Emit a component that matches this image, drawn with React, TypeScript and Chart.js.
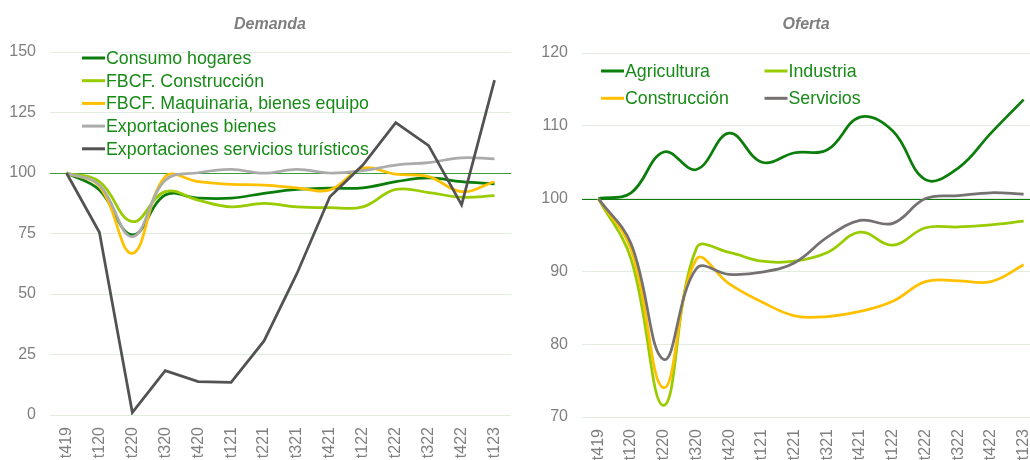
import React, { useEffect, useRef } from "react";
import { Chart, registerables } from "chart.js";
Chart.register(...registerables);

const FONT = "'Liberation Sans', Arial, Helvetica, sans-serif";

const categories = ["t419", "t120", "t220", "t320", "t420", "t121", "t221", "t321", "t421", "t122", "t222", "t322", "t422", "t123"];

// Demanda
const demandaTicks = [0, 25, 50, 75, 100, 125, 150];
const consumoHogares = [100, 93, 74.4, 90.9, 89.6, 89.6, 91.6, 93.2, 93.7, 93.9, 96.4, 98, 96.4, 95.5];
const fbcfConstruccion = [100, 96.4, 79.9, 92.3, 88.8, 86, 87.5, 86, 85.7, 86, 93.2, 91.9, 90, 90.6];
const fbcfMaquinaria = [100, 94.5, 66.8, 98.5, 96.4, 95.3, 95, 93.9, 93, 101.9, 99.5, 98.5, 92.3, 96.4];
const exportBienes = [100, 95, 73.7, 97, 100.1, 101.5, 99.9, 101.5, 100, 101, 103.3, 104.3, 106.3, 105.8];
const exportTuristicos = [100, 75.5, 1, 18.3, 13.8, 13.5, 30.6, 58.5, 90.2, 103.3, 120.8, 111.3, 86.8, 138.4];

// Oferta
const ofertaTicks = [70, 80, 90, 100, 110, 120];
const agricultura = [100, 100.8, 106.4, 104.0, 109.0, 105.0, 106.3, 106.7, 111.2, 109.3, 102.6, 104.2, 109.0, 113.6];
const industria = [100, 91.7, 71.6, 93.2, 92.6, 91.4, 91.4, 92.6, 95.4, 93.6, 96.0, 96.1, 96.4, 96.9];
const construccion = [100, 93.0, 74.0, 91.7, 88.3, 85.8, 83.9, 83.8, 84.5, 85.9, 88.6, 88.7, 88.6, 90.9];
const servicios = [100, 93.8, 77.9, 90.4, 89.6, 89.9, 91.2, 94.7, 97.0, 96.6, 100.0, 100.4, 100.8, 100.6];

const decor = {
  id: "decor",
  beforeDatasetsDraw(chart: any, _args: any, opts: any) {
    const { ctx, chartArea, scales } = chart;
    const y = Math.round(scales.y.getPixelForValue(opts.refValue)) + 0.5;
    ctx.save();
    ctx.strokeStyle = opts.refColor;
    ctx.lineWidth = 1;
    ctx.beginPath();
    ctx.moveTo(chartArea.left, y);
    ctx.lineTo(chartArea.right, y);
    ctx.stroke();
    ctx.restore();
  },
  afterDatasetsDraw(chart: any, _args: any, opts: any) {
    const { ctx } = chart;
    ctx.save();
    ctx.font = `italic bold 16px ${FONT}`;
    ctx.fillStyle = "#7f7f7f";
    ctx.textAlign = "center";
    ctx.textBaseline = "middle";
    ctx.fillText(opts.title, opts.titleX, opts.titleY);
    ctx.font = `17.8px ${FONT}`;
    ctx.textAlign = "left";
    chart.data.datasets.forEach((ds: any, i: number) => {
      const p = opts.legendPos[i];
      ctx.strokeStyle = ds.borderColor;
      ctx.lineWidth = 3;
      ctx.beginPath();
      ctx.moveTo(p[0], p[1]);
      ctx.lineTo(p[0] + 23, p[1]);
      ctx.stroke();
      ctx.fillStyle = "#178a17";
      ctx.fillText(ds.label, p[0] + 24, p[1] + 1);
    });
    ctx.restore();
  },
};

function makeConfig(o: any) {
  return {
    type: "line",
    data: {
      labels: categories,
      datasets: o.series.map((s: any, i: number) => ({
        label: s.label,
        data: s.data,
        borderColor: s.color,
        backgroundColor: s.color,
        borderWidth: 2.75,
        pointRadius: 0,
        tension: s.tension ?? 0.4,
        fill: false,
        order: o.series.length - i,
      })),
    },
    plugins: [decor],
    options: {
      responsive: false,
      animation: false,
      layout: { padding: { left: 0, right: o.padRight, top: o.top, bottom: 0 } },
      plugins: {
        legend: { display: false },
        tooltip: { enabled: false },
        decor: {
          refValue: 100,
          refColor: o.refColor,
          title: o.title,
          titleX: o.titleX,
          titleY: o.titleY,
          legendPos: o.legendPos,
        },
      },
      scales: {
        x: {
          type: "category",
          offset: true,
          grid: { display: false, drawTicks: false },
          border: { display: false },
          afterFit: (s: any) => {
            s.height = o.xHeight;
            s.paddingLeft = 0;
            s.paddingRight = 0;
          },
          ticks: {
            autoSkip: false,
            minRotation: 90,
            maxRotation: 90,
            padding: 12,
            color: "#7f7f7f",
            font: { family: FONT, size: 16 },
          },
        },
        y: {
          min: o.ticks[0],
          max: o.ticks[o.ticks.length - 1],
          afterBuildTicks: (s: any) => {
            s.ticks = o.ticks.map((v: number) => ({ value: v }));
          },
          afterFit: (s: any) => {
            s.width = o.yWidth;
            s.paddingTop = 0;
            s.paddingBottom = 0;
          },
          grid: { color: "#e2ede2", lineWidth: 1, drawTicks: false },
          border: { display: false },
          ticks: {
            padding: 14,
            color: "#7f7f7f",
            font: { family: FONT, size: 16 },
          },
        },
      },
    },
  };
}

function ChartCanvas({ config, left, width }: any) {
  const ref = useRef<HTMLCanvasElement | null>(null);
  useEffect(() => {
    if (!ref.current) return;
    const chart = new Chart(ref.current, config);
    return () => chart.destroy();
  }, []);
  return (
    <canvas
      ref={ref}
      width={width}
      height={460}
      style={{ position: "absolute", left, top: 0, width, height: 460 }}
    />
  );
}

const demandaConfig = makeConfig({
  series: [
    { label: "Consumo hogares", data: consumoHogares, color: "#0b7d0b" },
    { label: "FBCF. Construcción", data: fbcfConstruccion, color: "#99cc00" },
    { label: "FBCF. Maquinaria, bienes equipo", data: fbcfMaquinaria, color: "#ffc000" },
    { label: "Exportaciones bienes", data: exportBienes, color: "#ababab" },
    { label: "Exportaciones servicios turísticos", data: exportTuristicos, color: "#525252", tension: 0 },
  ],
  ticks: demandaTicks,
  refColor: "#3a9e3a",
  title: "Demanda",
  titleX: 270,
  titleY: 25,
  top: 52,
  padRight: 4,
  yWidth: 50,
  xHeight: 45,
  legendPos: [
    [82, 58],
    [82, 80.7],
    [82, 103.4],
    [82, 126.1],
    [82, 148.8],
  ],
});

const ofertaConfig = makeConfig({
  series: [
    { label: "Agricultura", data: agricultura, color: "#0b7d0b" },
    { label: "Industria", data: industria, color: "#99cc00" },
    { label: "Construcción", data: construccion, color: "#ffc000" },
    { label: "Servicios", data: servicios, color: "#767171" },
  ],
  ticks: ofertaTicks,
  refColor: "#107c10",
  title: "Oferta",
  titleX: 291,
  titleY: 25,
  top: 53,
  padRight: 5,
  yWidth: 67,
  xHeight: 43,
  legendPos: [
    [86, 71],
    [249.5, 71],
    [86, 98.3],
    [249.5, 98.3],
  ],
});

export default function App() {
  return (
    <div
      style={{
        position: "fixed",
        left: 0,
        top: 0,
        width: 1030,
        height: 460,
        overflow: "hidden",
        background: "#ffffff",
      }}
    >
      <ChartCanvas config={demandaConfig} left={0} width={515} />
      <ChartCanvas config={ofertaConfig} left={515} width={530} />
    </div>
  );
}
